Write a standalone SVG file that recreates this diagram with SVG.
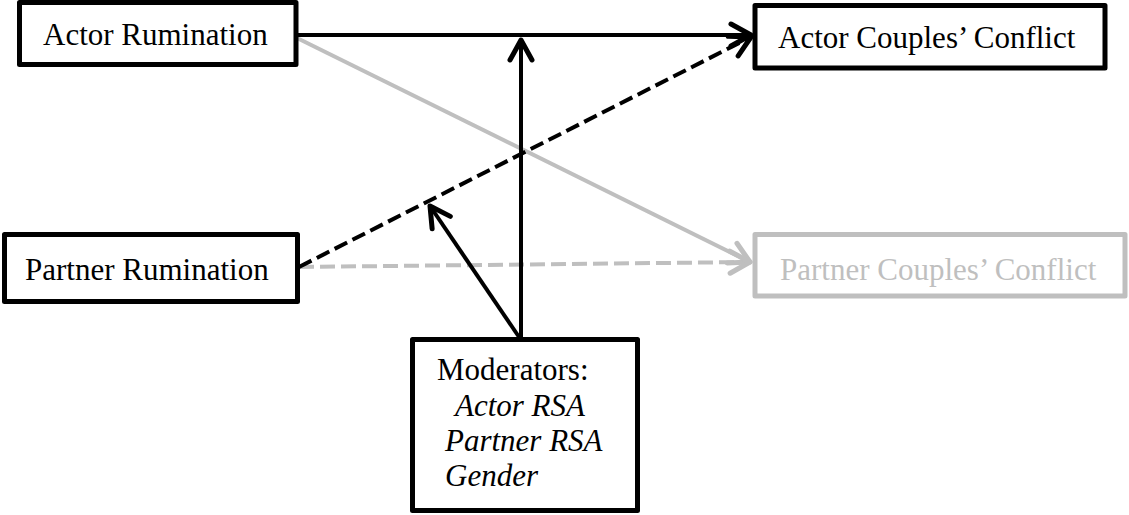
<svg xmlns="http://www.w3.org/2000/svg" width="1129" height="515" viewBox="0 0 1129 515">
<style>
.box{fill:#fff;stroke:#000;stroke-width:5;stroke-linejoin:round}
.gbox{fill:#fff;stroke:#bfbfbf;stroke-width:5;stroke-linejoin:round}
.t{font-family:"Liberation Serif","Times New Roman",serif;font-size:31px;fill:#000}
.gt{fill:#bfbfbf}
.it{font-style:italic}
.blk{stroke:#000;stroke-width:4;fill:none}
.gry{stroke:#bfbfbf;stroke-width:4;fill:none}
.dashb{stroke-dasharray:14 6}
.dashg{stroke-dasharray:15 6}
</style>
<defs>
<marker id="ab" markerUnits="userSpaceOnUse" markerWidth="40" markerHeight="40" viewBox="-30 -20 40 40" refX="0" refY="0" orient="auto" overflow="visible">
<path d="M-20,-11 L0,0 L-20,11" fill="none" stroke="#000" stroke-width="5" stroke-linecap="round" stroke-linejoin="round"/>
</marker>
<marker id="ag" markerUnits="userSpaceOnUse" markerWidth="40" markerHeight="40" viewBox="-30 -20 40 40" refX="0" refY="0" orient="auto" overflow="visible">
<path d="M-20,-11 L0,0 L-20,11" fill="none" stroke="#bfbfbf" stroke-width="5" stroke-linecap="round" stroke-linejoin="round"/>
</marker>
</defs>
<g id="connectors">
<line class="gry" x1="297" y1="38" x2="750" y2="262" marker-end="url(#ag)"/>
<line class="gry dashg" x1="299" y1="267" x2="750" y2="262" marker-end="url(#ag)"/>
<line class="blk" x1="297" y1="35" x2="751" y2="35" marker-end="url(#ab)"/>
<line class="blk dashb" x1="299" y1="267" x2="751" y2="37" marker-end="url(#ab)"/>
<line class="blk" x1="521" y1="337" x2="521" y2="40" marker-end="url(#ab)"/>
<line class="blk" x1="519" y1="337" x2="430" y2="206" marker-end="url(#ab)"/>
</g>
<g id="actor-rumination">
<rect class="box" x="19.5" y="2.5" width="276.5" height="62"/>
<text class="t" x="43" y="45">Actor Rumination</text>
</g>
<g id="actor-conflict">
<rect class="box" x="755" y="5.5" width="350" height="62.5"/>
<text class="t" x="778" y="48">Actor Couples’ Conflict</text>
</g>
<g id="partner-rumination">
<rect class="box" x="4.5" y="234.5" width="293" height="67"/>
<text class="t" x="25" y="280">Partner Rumination</text>
</g>
<g id="partner-conflict">
<rect class="gbox" x="755" y="234.5" width="370" height="61.5"/>
<text class="t gt" x="780" y="280">Partner Couples’ Conflict</text>
</g>
<g id="moderators">
<rect class="box" x="412.5" y="339.5" width="225" height="171"/>
<text class="t" x="437" y="380">Moderators:</text>
<text class="t it" x="455" y="416">Actor RSA</text>
<text class="t it" x="445" y="451">Partner RSA</text>
<text class="t it" x="445" y="486">Gender</text>
</g>
</svg>
